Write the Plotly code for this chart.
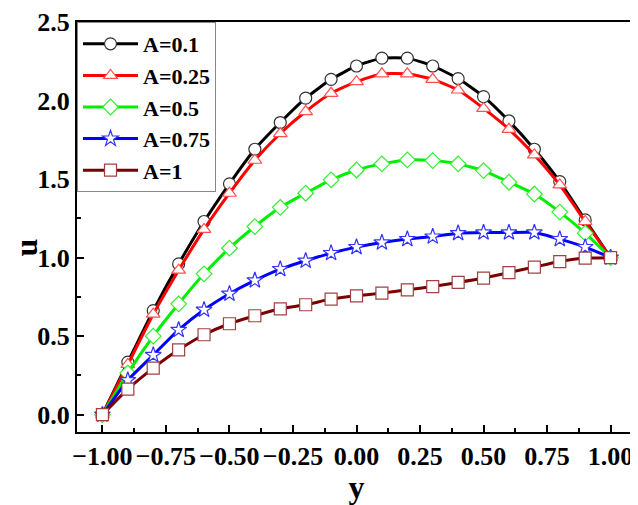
import plotly.graph_objects as go

y_pos = [-1.0, -0.9, -0.8, -0.7, -0.6, -0.5, -0.4, -0.3, -0.2, -0.1, 0.0,
         0.1, 0.2, 0.3, 0.4, 0.5, 0.6, 0.7, 0.8, 0.9, 1.0]

u_a01 = [0.0, 0.335, 0.663, 0.96, 1.23, 1.47, 1.69, 1.86, 2.015, 2.135, 2.22,
         2.27, 2.27, 2.22, 2.14, 2.025, 1.87, 1.69, 1.484, 1.24, 1.0]
u_a025 = [0.0, 0.32, 0.64, 0.92, 1.18, 1.41, 1.62, 1.79, 1.93, 2.046, 2.12,
          2.17, 2.17, 2.135, 2.067, 1.95, 1.817, 1.654, 1.463, 1.23, 1.0]
u_a05 = [0.0, 0.265, 0.50, 0.706, 0.897, 1.06, 1.198, 1.32, 1.41, 1.495, 1.558,
         1.597, 1.622, 1.618, 1.597, 1.554, 1.48, 1.405, 1.29, 1.156, 1.0]
u_a075 = [0.0, 0.22, 0.38, 0.54, 0.668, 0.77, 0.855, 0.927, 0.98, 1.029, 1.067,
          1.096, 1.118, 1.134, 1.156, 1.16, 1.16, 1.16, 1.118, 1.067, 1.0]
u_a1 = [0.0, 0.163, 0.297, 0.413, 0.509, 0.579, 0.63, 0.674, 0.70, 0.736, 0.757,
        0.774, 0.795, 0.816, 0.842, 0.87, 0.905, 0.94, 0.975, 0.997, 1.0]

names = ["A=0.1", "A=0.25", "A=0.5", "A=0.75", "A=1"]
series = [u_a01, u_a025, u_a05, u_a075, u_a1]
colors = ["#000000", "#ff0000", "#00ee00", "#0000ff", "#7a0000"]
edge = ["#333333", "#ff5050", "#33ee33", "#3333ff", "#a04040"]
symbols = ["circle", "triangle-up", "diamond", "star", "square"]

fnt = "Liberation Serif, Times New Roman, serif"

fig = go.Figure()
for n, s, c, e, m in zip(names, series, colors, edge, symbols):
    fig.add_trace(go.Scatter(
        x=y_pos, y=s, name=n, mode="lines+markers",
        line=dict(color=c, width=3, shape="spline", smoothing=0.5),
        marker=dict(symbol=m, size=12, color="white",
                    line=dict(color=e, width=1.2)),
    ))

axis_common = dict(
    showline=True, linecolor="black", linewidth=2, mirror=True,
    ticks="inside", ticklen=7, tickwidth=1.5, tickcolor="black",
    showgrid=False, zeroline=False, automargin=False,
    tickfont=dict(family=fnt, size=26, color="black", weight="bold"),
)

fig.update_xaxes(range=[-1.1, 1.1], tickvals=[-1, -0.75, -0.5, -0.25, 0, 0.25, 0.5, 0.75, 1],
                 tickformat=".2f",
                 minor=dict(dtick=0.125, tick0=-1, ticks="inside", ticklen=4, tickcolor="black"),
                 title=dict(text="y", font=dict(family=fnt, size=32, color="black", weight="bold"),
                            standoff=0),
                 **axis_common)
fig.update_yaxes(range=[-0.11, 2.5], tickvals=[0, 0.5, 1.0, 1.5, 2.0, 2.5],
                 tickformat=".1f",
                 minor=dict(dtick=0.25, tick0=0, ticks="inside", ticklen=4, tickcolor="black"),
                 **axis_common)

# y-axis title sits a bit below the middle in the original, so place it by hand
fig.add_annotation(text="u", xref="paper", yref="paper", x=-0.093, y=0.45,
                   xanchor="center", yanchor="middle",
                   showarrow=False, textangle=-90, borderpad=0,
                   font=dict(family=fnt, size=32, color="black", weight="bold"))

# page body adds an 8px offset, so the figure is 8px smaller each way
fig.update_layout(
    width=630, height=497,
    margin=dict(l=69, r=2, t=14, b=73),
    plot_bgcolor="white", paper_bgcolor="white",
    legend=dict(x=0, y=1, xanchor="left", yanchor="top",
                bordercolor="#888888", borderwidth=1, bgcolor="white",
                itemwidth=55, tracegroupgap=0,
                font=dict(family=fnt, size=22, color="black", weight="bold")),
)

fig.write_html("out.html")
